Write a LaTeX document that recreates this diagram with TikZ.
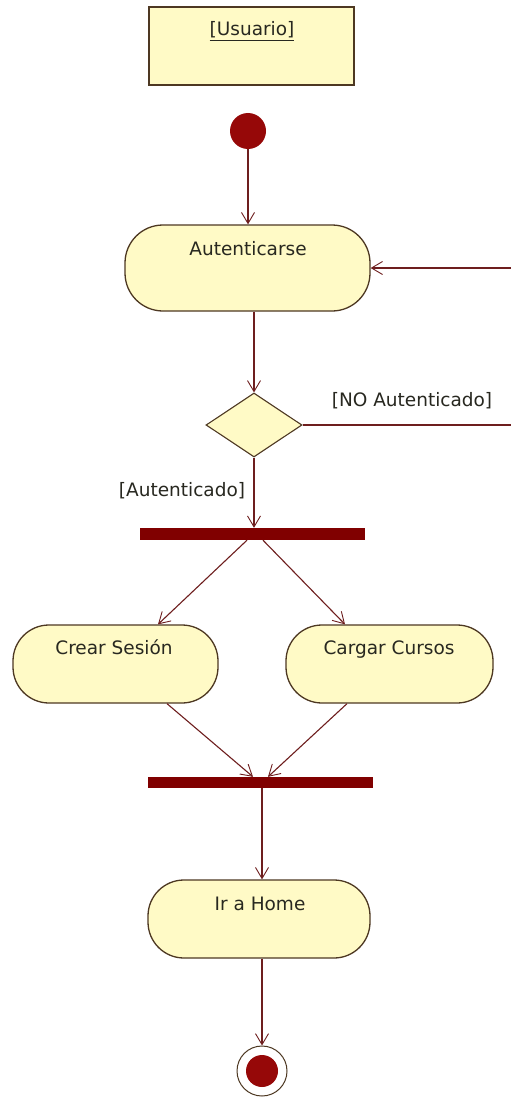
\documentclass[tikz,border=0pt]{standalone}
\usepackage{fontspec}
\setmainfont{DejaVu Sans}
\usetikzlibrary{arrows.meta,shapes.geometric}
\definecolor{actfill}{RGB}{255,250,198}
\definecolor{actedge}{RGB}{77,56,34}
\definecolor{flowcol}{RGB}{110,30,30}
\definecolor{barcol}{RGB}{128,0,0}
\definecolor{dotcol}{RGB}{150,8,8}
\definecolor{txtcol}{RGB}{40,40,32}
\begin{document}
\begin{tikzpicture}[x=1pt,y=-1pt,
  txt/.style={text=txtcol,font=\fontsize{18.5}{22}\selectfont,inner sep=0pt,anchor=base},
  objbox/.style={draw=actedge,line width=1.3pt,fill=actfill,inner sep=0pt},
  actbox/.style={draw=actedge,line width=1.3pt,fill=actfill,rounded corners=36pt,inner sep=0pt},
  decbox/.style={diamond,draw=actedge,line width=1.1pt,fill=actfill,inner sep=0pt,minimum width=96pt,minimum height=64pt},
  syncbar/.style={fill=barcol,inner sep=0pt},
  flow/.style={draw=flowcol,line width=1.1pt,-{Straight Barb[length=11pt,width=13pt,line width=0.9pt]}}]
\useasboundingbox[fill=white] (0,0) rectangle (511,1097);

% object node
\node[objbox,minimum width=205pt,minimum height=78pt] (user) at (251.5,46) {};
\node[txt] (userlbl) at (252,36) {\underline{[Usuario]}};

% initial node
\node[circle,fill=dotcol,minimum size=36pt,inner sep=0pt] (init) at (248,131) {};

% actions
\node[actbox,minimum width=245pt,minimum height=86pt,rounded corners=38pt] (auth) at (247.5,268) {};
\node[txt] (authlbl) at (248,255) {Autenticarse};

\node[decbox] (dec) at (254,425) {};

\node[syncbar,minimum width=225pt,minimum height=12pt] (fork) at (252.5,534) {};

\node[actbox,minimum width=205pt,minimum height=78pt] (crear) at (115.5,664) {};
\node[txt] (crearlbl) at (114,654) {Crear Sesión};
\node[actbox,minimum width=207pt,minimum height=78pt] (cargar) at (389.5,664) {};
\node[txt] (cargarlbl) at (389,654) {Cargar Cursos};

\node[syncbar,minimum width=225pt,minimum height=11pt] (join) at (260.5,782.5) {};

\node[actbox,minimum width=222pt,minimum height=78pt] (home) at (259,919) {};
\node[txt] (homelbl) at (260,910) {Ir a Home};

% final node
\node[circle,draw=actedge,line width=1pt,fill=white,minimum size=50pt,inner sep=0pt] (final) at (262,1071) {};
\node[circle,fill=dotcol,minimum size=32pt,inner sep=0pt] (finalcore) at (final.center) {};

% guard labels
\node[txt] (nolbl) at (412,406) {[NO Autenticado]};
\node[txt] (yeslbl) at (182,496) {[Autenticado]};

% flows
\coordinate (loopR) at (516,0);
\draw[flow] (init.south) -- (init.south |- auth.north);
\draw[flow] (auth.south -| dec.north) -- (dec.north);
\draw[flow] (dec.east) -- (dec.east -| loopR) -- (auth.east -| loopR) -- (auth.east);
\draw[flow] (dec.south) -- (dec.south |- fork.north);
\draw[flow] ([xshift=-5.5pt]fork.south) -- ([xshift=42.5pt]crear.north);
\draw[flow] ([xshift=10.5pt]fork.south) -- ([xshift=-44.5pt]cargar.north);
\draw[flow] ([xshift=51.5pt]crear.south) -- ([xshift=-7.5pt]join.north);
\draw[flow] ([xshift=-42.5pt]cargar.south) -- ([xshift=7.5pt]join.north);
\draw[flow] (join.south -| final) -- (home.north -| final);
\draw[flow] (home.south -| final) -- (final.north);
\end{tikzpicture}
\end{document}
